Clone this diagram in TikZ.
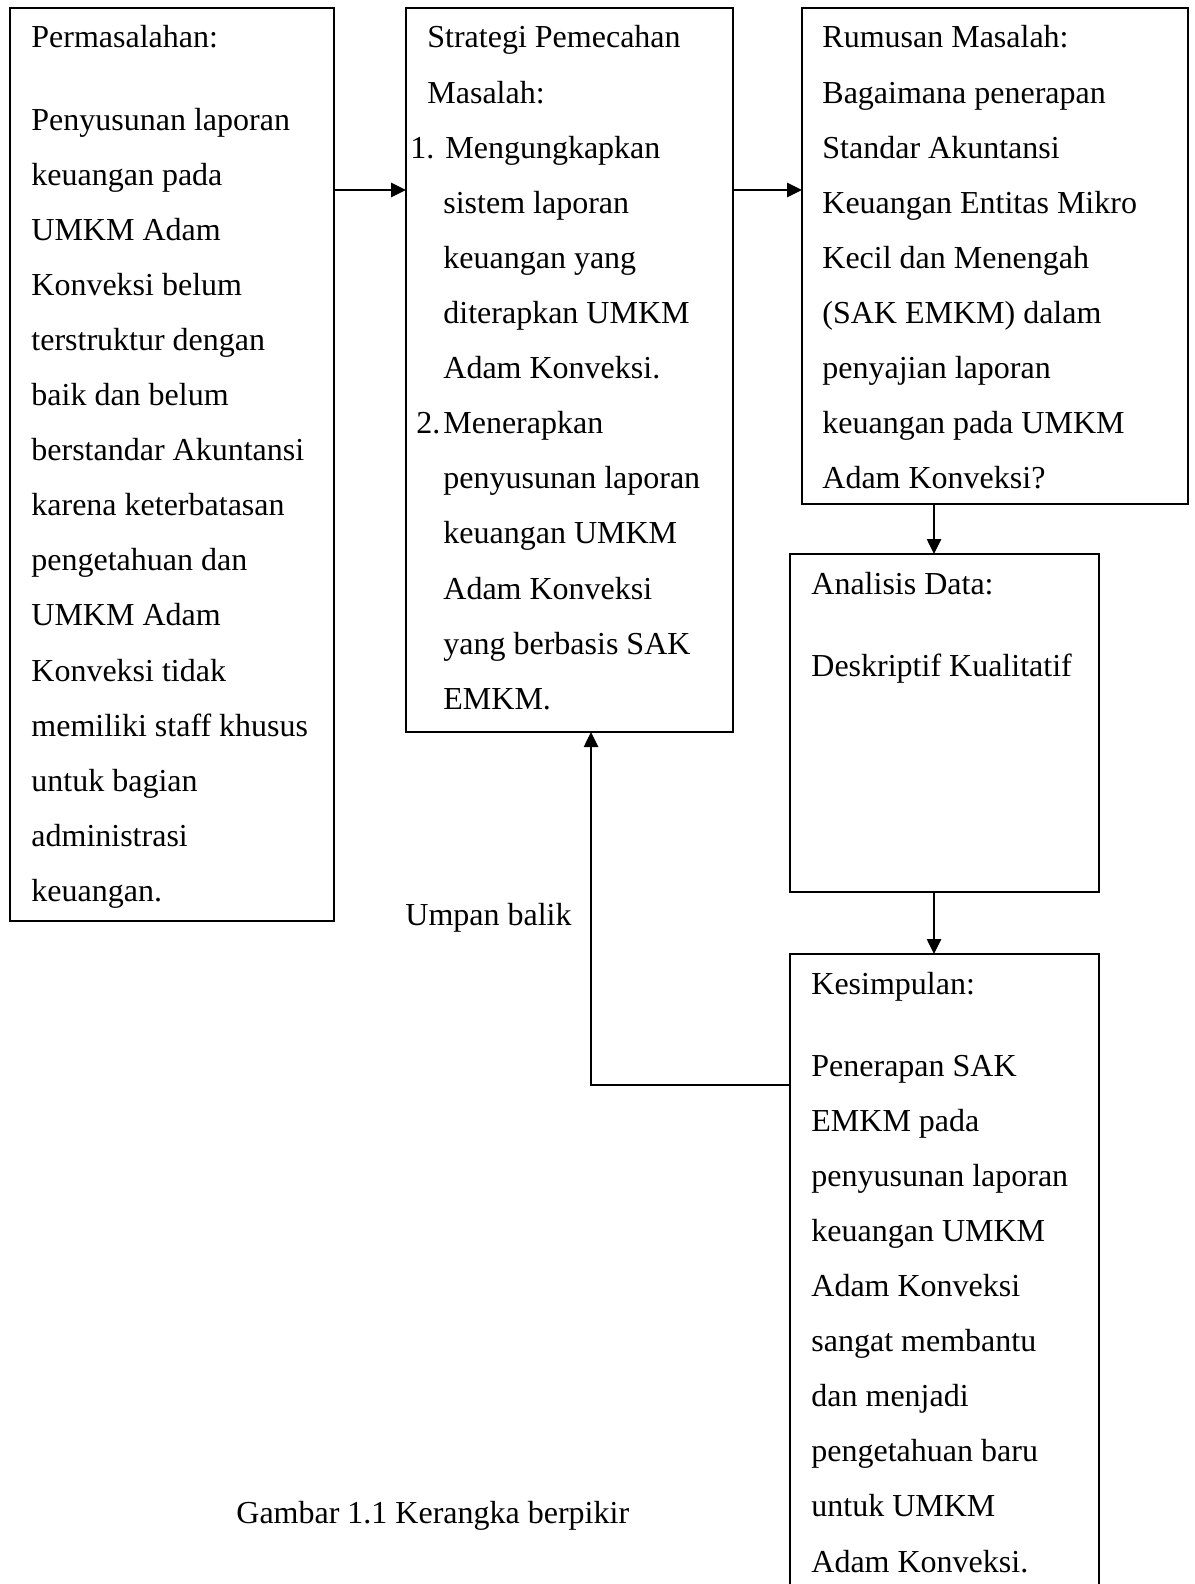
\documentclass[tikz,border=0pt]{standalone}
\usepackage{fontspec}
\setmainfont{Liberation Serif}
\usetikzlibrary{arrows.meta,fit}
\begin{document}
\begin{tikzpicture}[x=0.5pt,y=-0.5pt,
  box/.style={draw, line width=0.9pt, inner sep=0pt, outer sep=0pt},
  arr/.style={line width=1.3pt, -{Triangle[length=7.5pt,width=7pt]}},
  txt/.style={anchor=base west, inner sep=0pt, text width=300pt, align=flush left,
    font=\fontsize{16pt}{27.55pt}\selectfont}]
\useasboundingbox (0,0) rectangle (1194,1584);
\clip (0,0) rectangle (1194,1584);
\fill[white] (0,0) rectangle (1194,1584);
% boxes
\node[box, fit={(10,8) (334,921)}] (b1) {};
\node[box, fit={(406,8) (733,732)}] (b2) {};
\node[box, fit={(802,8) (1188,504)}] (b3) {};
\node[box, fit={(790,554) (1099,892)}] (b4) {};
\node[box, fit={(790,954) (1099,1640)}] (b5) {};
% texts
\node[txt] (t1) at (31,48) {Permasalahan:\\[13.5pt]
Penyusunan laporan\\
keuangan pada\\
UMKM Adam\\
Konveksi belum\\
terstruktur dengan\\
baik dan belum\\
berstandar Akuntansi\\
karena keterbatasan\\
pengetahuan dan\\
UMKM Adam\\
Konveksi tidak\\
memiliki staff khusus\\
untuk bagian\\
administrasi\\
keuangan.};
\node[txt] (t2) at (427,48) {Strategi Pemecahan\\
Masalah:\\
\makebox[0pt][l]{\hspace*{-8.5pt}1.}\hspace*{9pt}Mengungkapkan\\
\hspace*{8pt}sistem laporan\\
\hspace*{8pt}keuangan yang\\
\hspace*{8pt}diterapkan UMKM\\
\hspace*{8pt}Adam Konveksi.\\
\makebox[0pt][l]{\hspace*{-5.5pt}2.}\hspace*{8pt}Menerapkan\\
\hspace*{8pt}penyusunan laporan\\
\hspace*{8pt}keuangan UMKM\\
\hspace*{8pt}Adam Konveksi\\
\hspace*{8pt}yang berbasis SAK\\
\hspace*{8pt}EMKM.};
\node[txt] (t3) at (822,48) {Rumusan Masalah:\\
Bagaimana penerapan\\
Standar Akuntansi\\
Keuangan Entitas Mikro\\
Kecil dan Menengah\\
(SAK EMKM) dalam\\
penyajian laporan\\
keuangan pada UMKM\\
Adam Konveksi?};
\node[txt] (t4) at (811,594) {Analisis Data:\\[13.5pt]
Deskriptif Kualitatif};
\node[txt] (t5) at (811,994) {Kesimpulan:\\[13.5pt]
Penerapan SAK\\
EMKM pada\\
penyusunan laporan\\
keuangan UMKM\\
Adam Konveksi\\
sangat membantu\\
dan menjadi\\
pengetahuan baru\\
untuk UMKM\\
Adam Konveksi.};
\node[txt] (fb) at (405,925) {Umpan balik};
\node[txt] (cap) at (236,1523) {Gambar 1.1 Kerangka berpikir};
% connectors
\draw[arr] (b1.east |- 0,190) -- (b2.west |- 0,190);
\draw[arr] (b2.east |- 0,190) -- (b3.west |- 0,190);
\draw[arr] (b3.south -| 934,0) -- (b4.north -| 934,0);
\draw[arr] (b4.south -| 934,0) -- (b5.north -| 934,0);
\draw[arr] (b5.west |- 0,1085) -| (b2.south -| 591,0);
\end{tikzpicture}
\end{document}
